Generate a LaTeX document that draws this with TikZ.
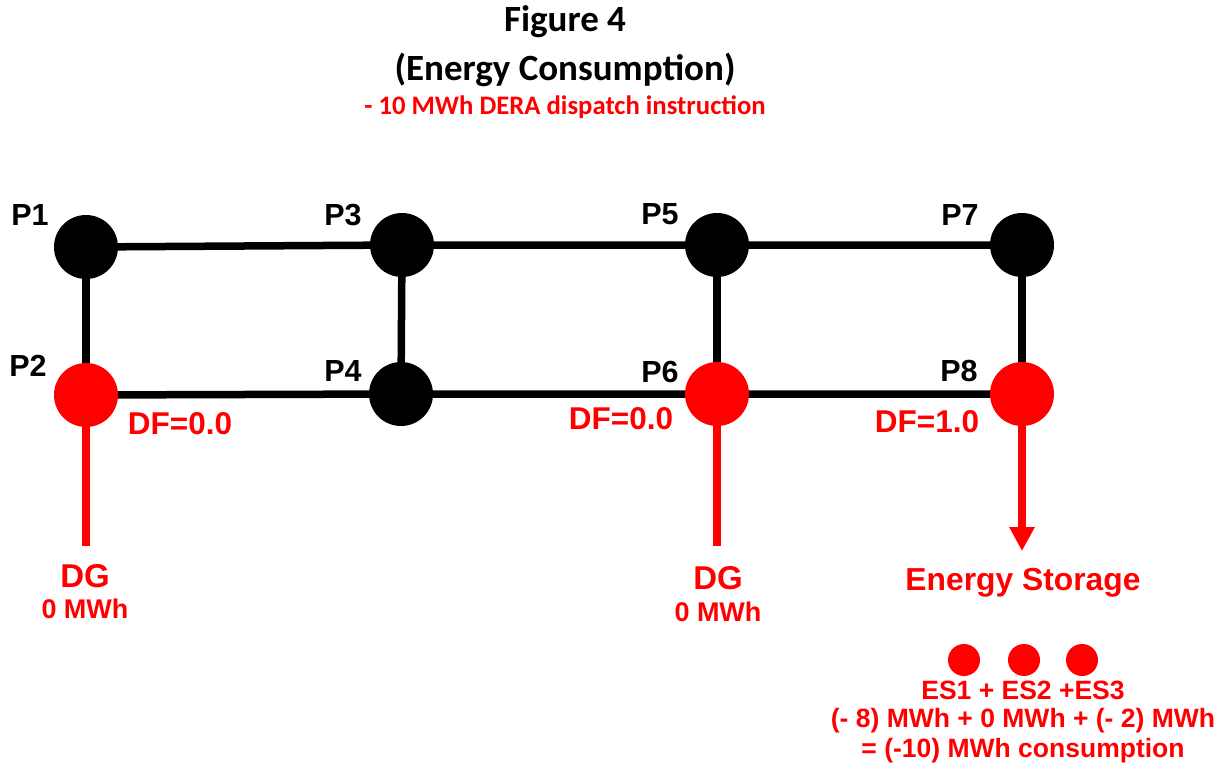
\documentclass[tikz,border=0pt]{standalone}
\usepackage{fontspec}
\setmainfont{Liberation Sans}
\newfontfamily\titlefont{Carlito}
\usetikzlibrary{arrows.meta}
\definecolor{pred}{RGB}{255,0,0}
\tikzset{
  bus/.style={circle, fill=black, minimum size=64pt, inner sep=0pt},
  feedbus/.style={bus, fill=pred},
  esdot/.style={circle, fill=pred, minimum size=32pt, inner sep=0pt},
  tie/.style={line width=7.5pt, black},
  feed/.style={line width=8pt, pred},
  plabel/.style={font=\fontsize{30.5}{33}\selectfont\bfseries, text=black},
  dflabel/.style={font=\fontsize{31.5}{34}\selectfont\bfseries, text=pred},
  redtxt/.style={text=pred, font=\bfseries, align=center},
  sumtxt/.style={redtxt, font=\fontsize{26.5}{29}\selectfont\bfseries},
}
\begin{document}
\begin{tikzpicture}[x=1pt, y=-1pt]
\useasboundingbox (0,0) rectangle (1229,768);

% title block
\node[font=\titlefont\fontsize{37}{40}\selectfont\bfseries] (title) at (565,22) {Figure 4};
\node[font=\titlefont\fontsize{37}{40}\selectfont\bfseries] (subtitle) at (565,70) {(Energy Consumption)};
\node[font=\titlefont\fontsize{26.7}{29}\selectfont\bfseries, text=pred] (instr) at (565,107) {- 10 MWh DERA dispatch instruction};

% buses
\coordinate (c1) at (86,247);
\coordinate (c2) at (86,395);
\coordinate (c3) at (402,245);
\coordinate (c4) at (401,394);
\coordinate (c5) at (717,245);
\coordinate (c6) at (717,394);
\coordinate (c7) at (1022,245);
\coordinate (c8) at (1022,394);

% network ties (drawn under the buses)
\draw[tie] (c1) -- (c3) -- (c5) -- (c7);
\draw[tie] (c2) -- (c4) -- (c6) -- (c8);
\draw[tie] (c1) -- (c2);
\draw[tie] (c3) -- (c4);
\draw[tie] (c5) -- (c6);
\draw[tie] (c7) -- (c8);

% feeders
\coordinate (dg1end) at (86,546);
\coordinate (dg2end) at (717,546);
\coordinate (esend) at (1022,551);
\draw[feed] (c2) -- (dg1end);
\draw[feed] (c6) -- (dg2end);
\draw[feed, -{Triangle[length=24pt, width=24pt]}] (c8) -- (esend);

\node[bus] (P1) at (c1) {};
\node[feedbus] (P2) at (c2) {};
\node[bus] (P3) at (c3) {};
\node[bus] (P4) at (c4) {};
\node[bus] (P5) at (c5) {};
\node[feedbus] (P6) at (c6) {};
\node[bus] (P7) at (c7) {};
\node[feedbus] (P8) at (c8) {};

% bus labels
\node[plabel] (l1) at (30,215) {P1};
\node[plabel] (l2) at (28,366) {P2};
\node[plabel] (l3) at (343,215) {P3};
\node[plabel] (l4) at (343,371) {P4};
\node[plabel] (l5) at (660,214) {P5};
\node[plabel] (l6) at (660,372) {P6};
\node[plabel] (l7) at (960,215) {P7};
\node[plabel] (l8) at (959,371) {P8};

% distribution factors
\node[dflabel] (df2) at (180,424) {DF=0.0};
\node[dflabel] (df6) at (621,419) {DF=0.0};
\node[dflabel] (df8) at (927,422) {DF=1.0};

% generators and storage
\node[redtxt, font=\fontsize{33}{35}\selectfont\bfseries] (dg1) at (85,576) {DG};
\node[redtxt, font=\fontsize{27}{29}\selectfont\bfseries] (dg1v) at (85,609) {0 MWh};
\node[redtxt, font=\fontsize{33}{35}\selectfont\bfseries] (dg2) at (718,578) {DG};
\node[redtxt, font=\fontsize{27}{29}\selectfont\bfseries] (dg2v) at (718,612) {0 MWh};
\node[redtxt, font=\fontsize{31.8}{34}\selectfont\bfseries] (es) at (1023,583) {Energy Storage};

\node[esdot] (es1) at (964,660) {};
\node[esdot] (es2) at (1024,660) {};
\node[esdot] (es3) at (1082,660) {};

\node[sumtxt] (sum1) at (1023,690) {ES1 + ES2 +ES3};
\node[sumtxt] (sum2) at (1023,721) {(- 8) MWh + 0 MWh + (- 2) MWh};
\node[sumtxt] (sum3) at (1023,751) {= (-10) MWh consumption};
\end{tikzpicture}
\end{document}
